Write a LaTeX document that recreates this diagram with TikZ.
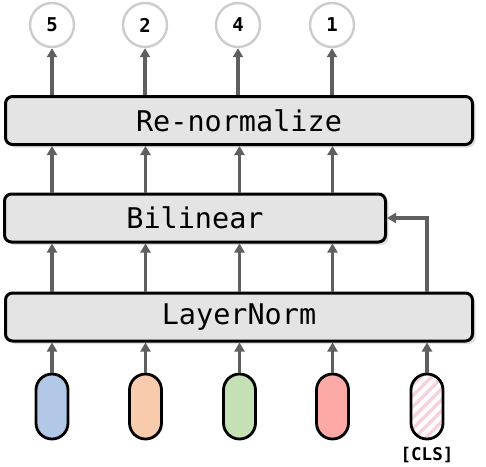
\documentclass[tikz,border=0pt]{standalone}
\usepackage{fontspec}
\newfontfamily\monof{DejaVu Sans Mono}
\usetikzlibrary{arrows.meta,shadows,calc}
\definecolor{arrgray}{HTML}{5F5F5F}
\definecolor{boxfill}{HTML}{E4E4E4}
\definecolor{circgray}{HTML}{CCCCCC}
\definecolor{tokblue}{HTML}{B2C8E6}
\definecolor{tokorange}{HTML}{F7CBAC}
\definecolor{tokgreen}{HTML}{C6E0B5}
\definecolor{tokred}{HTML}{FDAAA6}
\definecolor{tokpink}{HTML}{F7D2DE}
\begin{document}
\begin{tikzpicture}[x=1pt,y=-1pt,
  layer/.style={draw=black,line width=3pt,fill=boxfill,rounded corners=7pt,
    minimum height=48pt,inner sep=0pt,font=\monof\fontsize{28.5}{30}\selectfont,
    drop shadow={shadow xshift=3pt,shadow yshift=-3pt,opacity=0.25}},
  outc/.style={circle,draw=circgray,line width=2.4pt,fill=white,minimum size=44pt,inner sep=0pt,
    font=\monof\bfseries\fontsize{19}{21}\selectfont},
  tok/.style={draw=black,line width=2.8pt,rounded corners=16pt,minimum width=32pt,minimum height=65pt,inner sep=0pt},
  arr/.style={draw=arrgray,line width=3.3pt,-{Triangle[length=9pt,width=10pt]}}]
\useasboundingbox (0,0) rectangle (486,466);
% layers
\node[layer,minimum width=467pt] (rn) at (239,120.5) {Re-normalize};
\node[layer,minimum width=381pt] (bl) at (195,218) {Bilinear};
\node[layer,minimum width=467pt] (ln) at (239,317) {LayerNorm};
% outputs
\node[outc] (o1) at (52,25) {5};
\node[outc] (o2) at (145,25) {2};
\node[outc] (o3) at (238,25) {4};
\node[outc] (o4) at (332,25) {1};
% tokens
\node[tok,fill=tokblue] (t1) at (52,406.5) {};
\node[tok,fill=tokorange] (t2) at (145.5,406.5) {};
\node[tok,fill=tokgreen] (t3) at (239.5,406.5) {};
\node[tok,fill=tokred] (t4) at (332.5,406.5) {};
\node[tok,fill=white,path picture={
  \foreach \k in {-80,-69,...,80} {
    \draw[tokpink,line width=3.5pt] ($(path picture bounding box.center)+(\k-40,40)$) -- ++(80,-80);
  }}] (t5) at (427,406.5) {};
\node[font=\monof\bfseries\fontsize{17.5}{19}\selectfont,inner sep=0pt] (cls) at (427,455) {[CLS]};
% arrows tokens -> LayerNorm
\foreach \i in {1,...,5} {
  \draw[arr] (t\i.north) -- (t\i.north |- ln.south);
}
% LayerNorm -> Bilinear -> Re-normalize -> outputs
\foreach \i in {1,...,4} {
  \draw[arr] (t\i.north |- ln.north) -- (t\i.north |- bl.south);
  \draw[arr] (t\i.north |- bl.north) -- (t\i.north |- rn.south);
  \draw[arr] (o\i.south |- rn.north) -- (o\i.south);
}
\draw[arr] (t5.north |- ln.north) |- (bl.east);
\end{tikzpicture}
\end{document}
